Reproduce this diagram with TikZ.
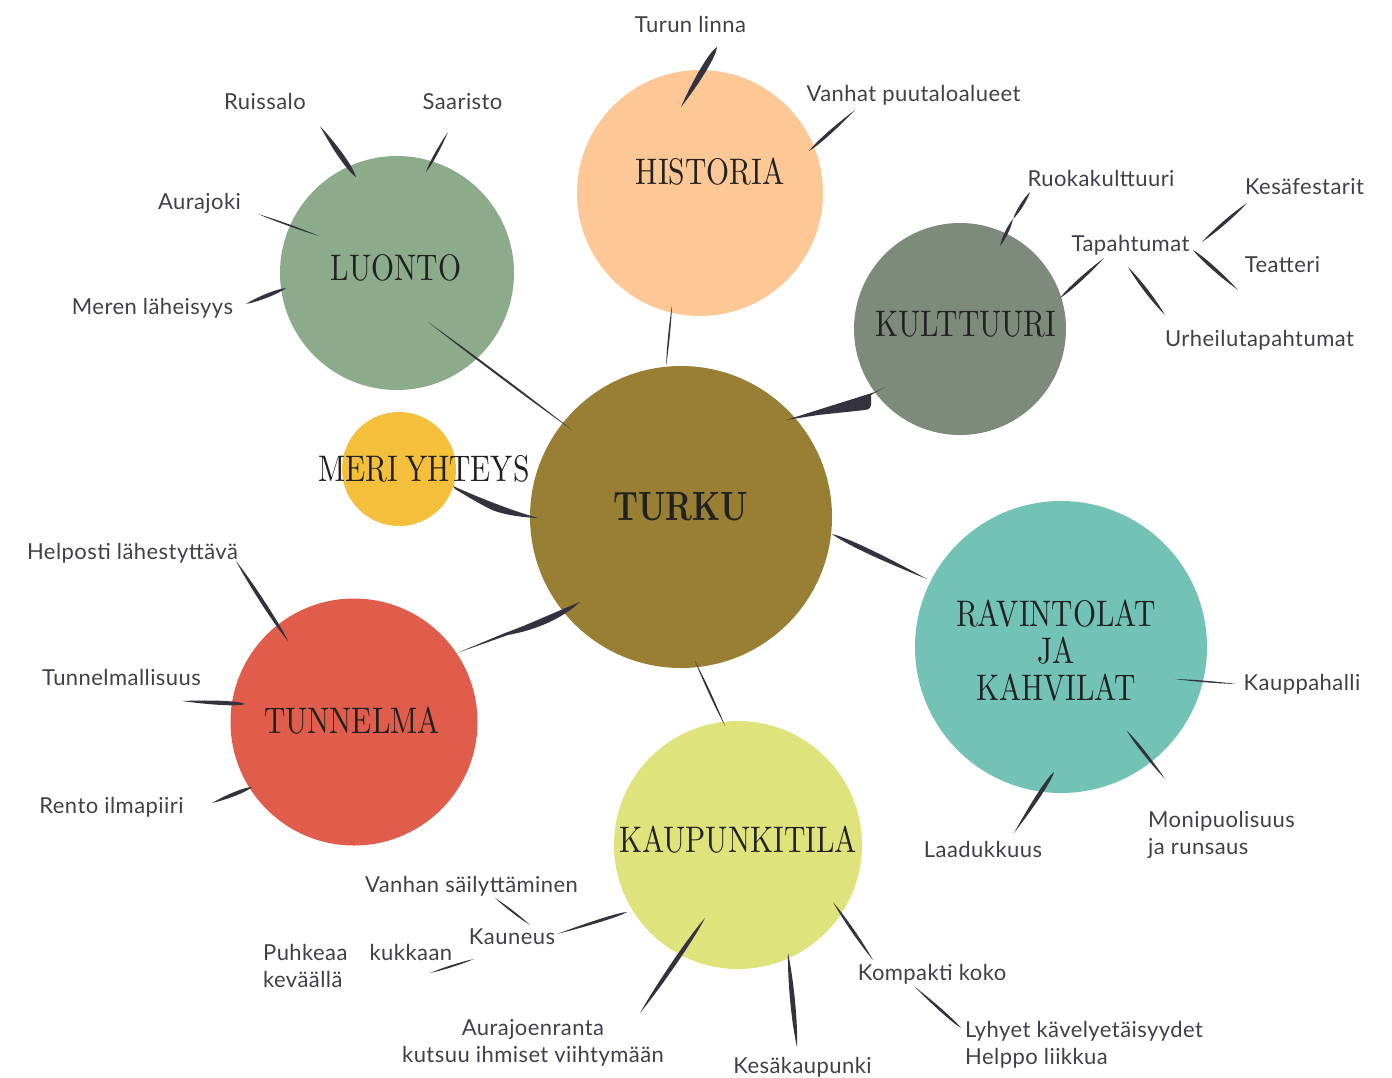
\documentclass[tikz,border=0pt]{standalone}
\usepackage{fontspec}
\usetikzlibrary{calc}
\newfontfamily\titlefont{lmroman10-regular.otf}[FakeStretch=0.8]
\newfontfamily\hubfont{lmroman10-bold.otf}[FakeStretch=0.76]
\newfontfamily\labelfont{Lato}[LetterSpace=2]

\definecolor{ink}{HTML}{33323E}
\definecolor{labelgray}{HTML}{40404A}
\definecolor{titleink}{HTML}{222222}
\definecolor{cTurku}{HTML}{997F33}
\definecolor{cHistoria}{HTML}{FEC896}
\definecolor{cLuonto}{HTML}{8BAB8A}
\definecolor{cKulttuuri}{HTML}{7E8A7C}
\definecolor{cMeri}{HTML}{F4C03B}
\definecolor{cRavintolat}{HTML}{72C2B5}
\definecolor{cTunnelma}{HTML}{E05C4B}
\definecolor{cKaupunki}{HTML}{DFE37C}

\tikzset{
  bubble/.style={circle, draw=none, inner sep=0pt},
  topic/.style={inner sep=0pt, text=titleink, font=\titlefont\fontsize{37}{37}\selectfont, align=center},
  hubtitle/.style={inner sep=0pt, text=titleink, font=\hubfont\fontsize{41}{42}\selectfont},
  leaf/.style={inner sep=0pt, anchor=base, text=labelgray, font=\labelfont\fontsize{22}{27}\selectfont},
}

% tapered brush stroke between two named points:
% #1 start, #2 end, #3 bulge offset, #4/#5 control positions along the stroke
\newcommand\brushstroke[5]{%
  \fill[ink] (#1) .. controls ($(#1)!#4!(#2)!#3!90:(#2)$) and ($(#1)!#5!(#2)!#3!90:(#2)$) .. (#2)
    .. controls ($(#1)!#5!(#2)!#3!-90:(#2)$) and ($(#1)!#4!(#2)!#3!-90:(#2)$) .. (#1) -- cycle;}

\begin{document}
\begin{tikzpicture}[x=1pt, y=-1pt]
\useasboundingbox (0,0) rectangle (1392,1077);

% ---- topic circles
\node[bubble, fill=cHistoria,   minimum size=246] (historia)  at (700,193) {};
\node[bubble, fill=cLuonto,     minimum size=234] (luonto)    at (397,273) {};
\node[bubble, fill=cKulttuuri,  minimum size=212] (kulttuuri) at (960,329) {};
\node[bubble, fill=cMeri,       minimum size=114] (meri)      at (399,469) {};
\node[bubble, fill=cTurku,      minimum size=302] (turku)     at (681,517) {};
\node[bubble, fill=cRavintolat, minimum size=292] (ravintolat) at (1061,647) {};
\node[bubble, fill=cTunnelma,   minimum size=247] (tunnelma)  at (354,722) {};
\node[bubble, fill=cKaupunki,   minimum size=248] (kaupunki)  at (738,845) {};

% ---- leaf labels
\node[leaf] (turunlinna) at (690.5,32) {Turun linna};
\node[leaf] (vanhat) at (913.5,101) {Vanhat puutaloalueet};
\node[leaf] (ruissalo) at (265,109) {Ruissalo};
\node[leaf] (saaristo) at (462.5,109) {Saaristo};
\node[leaf] (aurajoki) at (199.5,209) {Aurajoki};
\node[leaf] (meren) at (152.5,314) {Meren läheisyys};
\node[leaf] (ruoka) at (1101,186) {Ruokakulttuuri};
\node[leaf] (kesafest) at (1304.5,194) {Kesäfestarit};
\node[leaf] (tapahtumat) at (1130.5,251) {Tapahtumat};
\node[leaf] (teatteri) at (1282.5,272) {Teatteri};
\node[leaf] (urheilu) at (1259.5,346) {Urheilutapahtumat};
\node[leaf] (helposti) at (132.5,559) {Helposti lähestyttävä};
\node[leaf] (tunnelmallisuus) at (121.5,685) {Tunnelmallisuus};
\node[leaf] (rento) at (111.5,813) {Rento ilmapiiri};
\node[leaf] (kauppahalli) at (1302,690) {Kauppahalli};
\node[leaf, anchor=base west] (monipuolisuus) at (1148,827)
  {\begin{tabular}[t]{@{}l@{}}Monipuolisuus\\ja runsaus\end{tabular}};
\node[leaf] (laadukkuus) at (983,857) {Laadukkuus};
\node[leaf] (vanhan) at (471.5,892) {Vanhan säilyttäminen};
\node[leaf] (kauneus) at (512,944) {Kauneus};
\node[leaf, anchor=base west] (puhkeaa) at (263,960)
  {\begin{tabular}[t]{@{}l@{}}Puhkeaa\hspace{16pt} kukkaan\\keväällä\end{tabular}};
\node[leaf] (aurajoenranta) at (533,1035)
  {\begin{tabular}[t]{@{}c@{}}Aurajoenranta\\kutsuu ihmiset viihtymään\end{tabular}};
\node[leaf] (kesakaupunki) at (802.5,1073) {Kesäkaupunki};
\node[leaf] (kompakti) at (932,980) {Kompakti koko};
\node[leaf, anchor=base west] (lyhyet) at (965,1037)
  {\begin{tabular}[t]{@{}l@{}}Lyhyet kävelyetäisyydet\\Helppo liikkua\end{tabular}};

% ---- stroke end points
\coordinate (turunlinna-a) at (681,107);  \coordinate (turunlinna-b) at (717,47);
\coordinate (vanhat-a) at (809,151);      \coordinate (vanhat-b) at (855,110);
\coordinate (ruissalo-a) at (320,126);    \coordinate (ruissalo-b) at (356,177);
\coordinate (saaristo-a) at (448,132);    \coordinate (saaristo-b) at (426,172);
\coordinate (aurajoki-a) at (258,214);    \coordinate (aurajoki-b) at (319,236);
\coordinate (meren-a) at (246,304);       \coordinate (meren-b) at (286,288);
\coordinate (luonto-a) at (428,322);      \coordinate (luonto-b) at (572,430);
\coordinate (historia-a) at (672,305);    \coordinate (historia-b) at (666,366);
\coordinate (ruoka-a) at (1000,246);      \coordinate (ruoka-m) at (1013,219);
\coordinate (ruoka-b) at (1030,192);
\coordinate (tap-a) at (1060,298);        \coordinate (tap-b) at (1104,258);
\coordinate (kesa-a) at (1202,242);       \coordinate (kesa-b) at (1247,203);
\coordinate (teat-a) at (1193,250);       \coordinate (teat-b) at (1238,290);
\coordinate (urh-a) at (1128,267);        \coordinate (urh-b) at (1165,315);
\coordinate (rav-a) at (832,534);         \coordinate (rav-b) at (927,579);
\coordinate (kaup-a) at (695,661);        \coordinate (kaup-b) at (725,726);
\coordinate (helposti-a) at (236,561);    \coordinate (helposti-b) at (288,641);
\coordinate (tunm-a) at (182,701);        \coordinate (tunm-b) at (245,704);
\coordinate (rento-a) at (212,803);       \coordinate (rento-b) at (252,787);
\coordinate (kauppa-a) at (1175,679);     \coordinate (kauppa-b) at (1236,684);
\coordinate (moni-a) at (1127,731);       \coordinate (moni-b) at (1165,779);
\coordinate (laad-a) at (1054,772);       \coordinate (laad-b) at (1014,833);
\coordinate (kaun-a) at (557,934);        \coordinate (kaun-b) at (627,912);
\coordinate (vanhan-a) at (495,898);      \coordinate (vanhan-b) at (530,925);
\coordinate (puhk-a) at (430,973);        \coordinate (puhk-b) at (474,959);
\coordinate (aura-a) at (640,1013);       \coordinate (aura-b) at (705,918);
\coordinate (kesak-a) at (788,953);       \coordinate (kesak-b) at (797,1047);
\coordinate (komp-a) at (833,902);        \coordinate (komp-b) at (873,960);
\coordinate (lyh-a) at (915,987);         \coordinate (lyh-b) at (961,1028);

% ---- brush strokes
\brushstroke{turunlinna-a}{turunlinna-b}{4pt}{0.45}{0.9}
\brushstroke{vanhat-a}{vanhat-b}{2.2pt}{0.2}{0.55}
\brushstroke{ruissalo-a}{ruissalo-b}{3.5pt}{0.45}{0.85}
\brushstroke{saaristo-a}{saaristo-b}{1.8pt}{0.4}{0.8}
\brushstroke{aurajoki-a}{aurajoki-b}{1.1pt}{0.3}{0.7}
\brushstroke{meren-a}{meren-b}{2.6pt}{0.3}{0.8}
\brushstroke{luonto-a}{luonto-b}{1.4pt}{0.3}{0.7}
\brushstroke{historia-a}{historia-b}{1.1pt}{0.3}{0.7}
\brushstroke{ruoka-a}{ruoka-m}{2.2pt}{0.3}{0.7}
\brushstroke{ruoka-m}{ruoka-b}{2.2pt}{0.3}{0.7}
\brushstroke{tap-a}{tap-b}{2.2pt}{0.2}{0.6}
\brushstroke{kesa-a}{kesa-b}{2.2pt}{0.3}{0.7}
\brushstroke{teat-a}{teat-b}{2.4pt}{0.2}{0.6}
\brushstroke{urh-a}{urh-b}{2.4pt}{0.3}{0.7}
\brushstroke{rav-a}{rav-b}{3.2pt}{0.15}{0.5}
\brushstroke{kaup-a}{kaup-b}{1.3pt}{0.3}{0.7}
\brushstroke{helposti-a}{helposti-b}{2.6pt}{0.3}{0.8}
\brushstroke{tunm-a}{tunm-b}{2.8pt}{0.5}{0.9}
\brushstroke{rento-a}{rento-b}{2.6pt}{0.4}{0.85}
\brushstroke{kauppa-a}{kauppa-b}{1.0pt}{0.3}{0.7}
\brushstroke{moni-a}{moni-b}{2.0pt}{0.2}{0.6}
\brushstroke{laad-a}{laad-b}{2.8pt}{0.1}{0.5}
\brushstroke{kaun-a}{kaun-b}{2.0pt}{0.5}{0.9}
\brushstroke{vanhan-a}{vanhan-b}{1.3pt}{0.3}{0.7}
\brushstroke{puhk-a}{puhk-b}{1.3pt}{0.3}{0.7}
\brushstroke{aura-a}{aura-b}{3pt}{0.3}{0.8}
\brushstroke{kesak-a}{kesak-b}{3.2pt}{0.3}{0.75}
\brushstroke{komp-a}{komp-b}{2.0pt}{0.3}{0.7}
\brushstroke{lyh-a}{lyh-b}{1.8pt}{0.4}{0.85}

% broad wedge from KULTTUURI into TURKU
\coordinate (kult-a) at (786,420);
\coordinate (kult-b) at (885,387);
\fill[ink] (kult-a) -- (875,392) -- (kult-b) -- (871,395) -- (871,405)
  .. controls (870,409) and (868,410) .. (865,410) -- (818,415) -- cycle;
% curved wedge from MERI YHTEYS into TURKU
\coordinate (meri-a) at (453,486);
\coordinate (meri-b) at (538,518);
\fill[ink] (meri-a) .. controls (480,498) and (510,510) .. (meri-b)
  .. controls (515,517) and (498,513) .. (490,509)
  .. controls (478,503) and (465,495) .. (455,489) -- cycle;
% stroke from TUNNELMA into TURKU, hairline then broad
\coordinate (tun-a) at (457,653);
\coordinate (tun-b) at (580,602);
\fill[ink] (tun-a) -- (505,633) .. controls (530,624) and (555,612) .. (tun-b)
  .. controls (560,620) and (535,630) .. (508,635) -- cycle;

% ---- topic titles
\node[topic] (historia-t) at (710,172) {HISTORIA};
\node[topic] (luonto-t) at (396,268) {LUONTO};
\node[topic] (kulttuuri-t) at (966,324) {KULTTUURI};
\node[topic] (meri-t) at (424,469) {MERI\hspace{-3pt} YHTEYS};
\node[hubtitle] (turku-t) at (681,507) {TURKU};
\node[topic] (ravintolat-t) at (1056,651) {RAVINTOLAT\\JA\\KAHVILAT};
\node[topic] (tunnelma-t) at (352,721) {TUNNELMA};
\node[topic] (kaupunki-t) at (738,840) {KAUPUNKITILA};
\end{tikzpicture}
\end{document}
